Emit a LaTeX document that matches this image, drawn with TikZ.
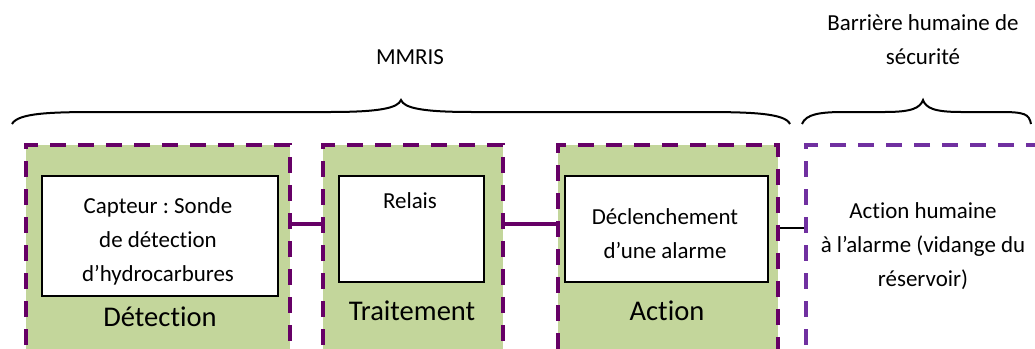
\documentclass[tikz,border=0pt]{standalone}
\usepackage{fontspec}
\setmainfont{Carlito}[Ligatures={NoCommon}]
\frenchspacing
\usetikzlibrary{positioning,calc}
\definecolor{bordcolor}{RGB}{102,0,102}
\definecolor{humcolor}{RGB}{112,48,160}
\definecolor{fondcolor}{RGB}{195,214,155}

\begin{document}
\begin{tikzpicture}[x=0.025cm, y=-0.025cm,
    bloc/.style={draw=bordcolor, fill=fondcolor, line width=0.1cm,
        dash pattern=on 0.4cm off 0.3cm, anchor=north west, inner sep=0pt},
    humain/.style={bloc, draw=humcolor, fill=none},
    boite/.style={draw, fill=white, line width=0.05cm, anchor=north west, inner sep=0pt},
    texte/.style={align=center, font=\fontsize{16.3}{24.2}\selectfont},
    etiquette/.style={font=\fontsize{20.3}{24}\selectfont},
    lien/.style={draw=bordcolor, line width=0.09cm},
    accolade/.style={line width=0.05cm}]
    \useasboundingbox (0,0) rectangle (1035,349);
    \clip (0,0) rectangle (1035,349);

    % Outer blocks
    \node[bloc, minimum width=6.6cm, minimum height=6cm] (detection) at (24,143) {};
    \node[bloc, minimum width=4.5cm, minimum height=6cm] (traitement) at (321,143) {};
    \node[bloc, minimum width=5.5cm, minimum height=6cm] (action) at (556,143) {};
    \node[humain, minimum width=6.6cm, minimum height=6cm] (humaine) at (804,143) {};

    % Inner boxes
    \node[boite, minimum width=5.9cm, minimum height=3cm] (capteur) at (41,175) {};
    \node[boite, minimum width=3.625cm, minimum height=2.65cm] (relais) at (338,175) {};
    \node[boite, minimum width=5.075cm, minimum height=2.65cm] (alarme) at (564,175) {};

    % Texts
    \node[texte] (tcapteur) at (158,241) {Capteur : Sonde\\de détection\\d’hydrocarbures};
    \node[texte] (trelais) at (410,201) {Relais};
    \node[texte] (talarme) at (665,234) {Déclenchement\\d’une alarme};
    \node[texte] (thumaine) at (923,246) {Action humaine\\à l’alarme (vidange du\\réservoir)};
    \node[etiquette] (ldetection) at (160,317) {Détection};
    \node[etiquette] (ltraitement) at (412,311) {Traitement};
    \node[etiquette] (laction) at (667,311) {Action};

    % Links between blocks
    \path (detection.north east) ++(0,81) coordinate (d1);
    \path (traitement.north east) ++(0,81) coordinate (t1);
    \path (action.north east) ++(0,85) coordinate (a1);
    \draw[lien] (d1) -- (d1 -| traitement.west);
    \draw[lien] (t1) -- (t1 -| action.west);
    \draw[line width=0.04cm] (a1) -- (a1 -| humaine.west);

    % Braces
    \draw[accolade] (12,124) .. controls (18,113) and (50,112) .. (100,112) -- (330,112)
        .. controls (380,112) and (398,108) .. (401,100)
        .. controls (404,108) and (422,112) .. (472,112) -- (700,112)
        .. controls (750,112) and (785,113) .. (790,124);
    \draw[accolade] (802,124) .. controls (806,114) and (820,112) .. (845,112) -- (885,112)
        .. controls (912,112) and (920,108) .. (923,100)
        .. controls (926,108) and (934,112) .. (961,112) -- (1000,112)
        .. controls (1025,112) and (1029,114) .. (1031,124);
    \node[texte] (mmris) at (410,57) {MMRIS};
    \node[texte] (barriere) at (923,40) {Barrière humaine de\\sécurité};
\end{tikzpicture}
\end{document}
